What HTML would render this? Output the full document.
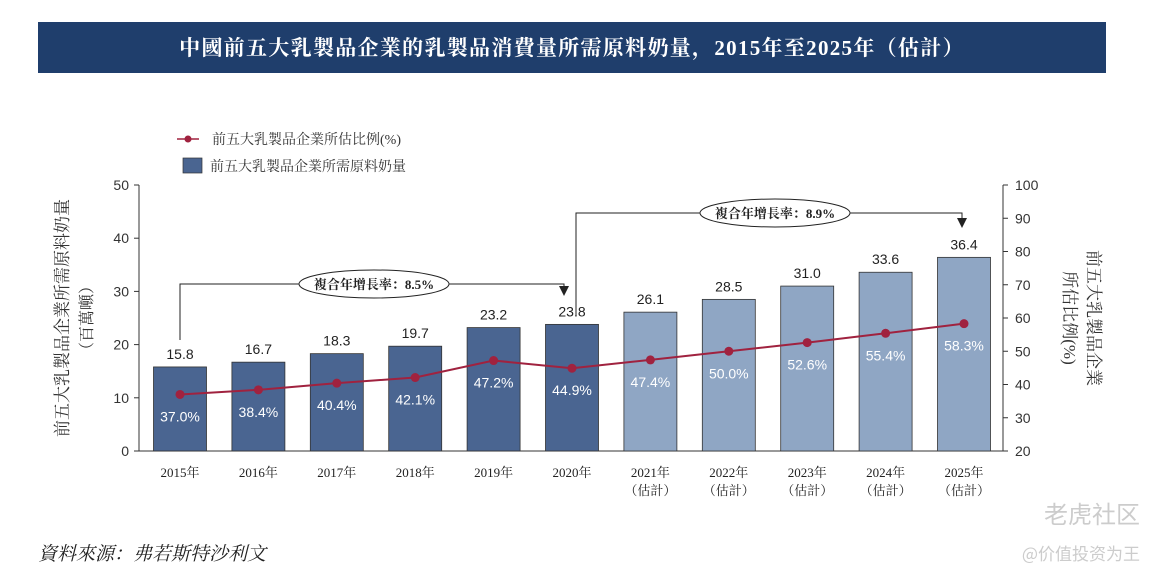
<!DOCTYPE html>
<html><head><meta charset="utf-8"><style>
body{margin:0;background:#fff;width:1161px;height:580px;overflow:hidden;font-family:"Liberation Serif","Noto Serif CJK SC",serif}
</style></head><body>
<svg width="1161" height="580" xmlns="http://www.w3.org/2000/svg">
<rect x="38" y="22" width="1068" height="51" fill="#1f3e6c"/>
<text x="572" y="55" fill="#fff" font-size="21" letter-spacing="1.3" font-weight="bold" text-anchor="middle" font-family="Liberation Serif,Noto Serif CJK SC,serif">中國前五大乳製品企業的乳製品消費量所需原料奶量，2015年至2025年（估計）</text>
<g>
<line x1="177" y1="139" x2="199" y2="139" stroke="#a0223f" stroke-width="1.5"/><circle cx="188" cy="139" r="3.5" fill="#a0223f"/>
<text x="212" y="144" font-size="14" fill="#333">前五大乳製品企業所估比例(%)</text>
<rect x="183" y="158" width="19" height="15" fill="#4a6591" stroke="#333" stroke-width="0.7"/>
<text x="210" y="171" font-size="14" fill="#333">前五大乳製品企業所需原料奶量</text>
</g>
<g id="axes"></g>
<g id="marks"></g>
<text transform="translate(68,318) rotate(-90)" font-size="17" fill="#333" text-anchor="middle">前五大乳製品企業所需原料奶量</text>
<text transform="translate(92,318) rotate(-90)" font-size="16" fill="#333" text-anchor="middle">（百萬噸）</text>
<text transform="translate(1088,318) rotate(90)" font-size="17" fill="#333" text-anchor="middle">前五大乳製品企業</text>
<text transform="translate(1064,318) rotate(90)" font-size="17" fill="#333" text-anchor="middle">所估比例(%)</text>
<text x="38" y="560" font-size="19" font-style="italic" fill="#222">資料來源：弗若斯特沙利文</text>
<text x="1140" y="523" font-size="24" fill="#ccc" text-anchor="end" font-family="Noto Sans CJK SC,sans-serif">老虎社区</text>
<text x="1140" y="560" font-size="17" fill="#ccc" text-anchor="end" font-family="Noto Sans CJK SC,sans-serif">@价值投资为王</text>
</svg>
<script>
const years=['2015年','2016年','2017年','2018年','2019年','2020年','2021年','2022年','2023年','2024年','2025年'];
const estimated=[false,false,false,false,false,false,true,true,true,true,true];
const volume=[15.8,16.7,18.3,19.7,23.2,23.8,26.1,28.5,31.0,33.6,36.4];
const share=[37.0,38.4,40.4,42.1,47.2,44.9,47.4,50.0,52.6,55.4,58.3];
const leftTicks=[0,10,20,30,40,50];
const rightTicks=[20,30,40,50,60,70,80,90,100];
const NS='http://www.w3.org/2000/svg';
const y0=451,yTop=185,xL=139,xR=1003;
const yL=v=>y0-(v/50)*(y0-yTop);
const yR=v=>y0-((v-20)/80)*(y0-yTop);
const xC=i=>180+i*78.4;
function mk(t,a,p){const e=document.createElementNS(NS,t);for(const k in a)e.setAttribute(k,a[k]);(p||document.getElementById('marks')).appendChild(e);return e;}
const ax=document.getElementById('axes');
let e=mk('line',{x1:xL,y1:yTop,x2:xL,y2:y0,stroke:'#333'},ax);

e=mk('line',{x1:xR,y1:yTop,x2:xR,y2:y0,stroke:'#333'},ax);

e=mk('line',{x1:xL,y1:y0,x2:xR,y2:y0,stroke:'#333'},ax);

leftTicks.forEach(v=>{mk('line',{x1:xL-5,y1:yL(v),x2:xL,y2:yL(v),stroke:'#333'},ax);
e=mk('text',{x:xL-10,y:yL(v)+5,'font-size':14,'text-anchor':'end',fill:'#333','font-family':'Liberation Sans,sans-serif'},ax);e.textContent=v;
});
rightTicks.forEach(v=>{mk('line',{x1:xR,y1:yR(v),x2:xR+5,y2:yR(v),stroke:'#333'},ax);
e=mk('text',{x:xR+12,y:yR(v)+5,'font-size':14,fill:'#333','font-family':'Liberation Sans,sans-serif'},ax);e.textContent=v;
});
years.forEach((y,i)=>{
 const x=xC(i);
 e=mk('rect',{x:x-26.5,y:yL(volume[i]),width:53,height:y0-yL(volume[i]),fill:estimated[i]?'#8fa6c4':'#4a6591',stroke:'#333','stroke-width':0.8});
 
 e=mk('text',{x:x,y:yL(volume[i])-8,'font-size':14,'text-anchor':'middle',fill:'#222','font-family':'Liberation Sans,sans-serif'});e.textContent=volume[i].toFixed(1);
 
 e=mk('text',{x:x,y:yR(share[i])+27,'font-size':14,'text-anchor':'middle',fill:'#fff','font-family':'Liberation Sans,sans-serif'});e.textContent=share[i].toFixed(1)+'%';
 
 e=mk('text',{x:x,y:477,'font-size':13,'text-anchor':'middle',fill:'#222'},ax);e.textContent=y;
 
 if(estimated[i]){e=mk('text',{x:x,y:495,'font-size':13,'text-anchor':'middle',fill:'#222'},ax);e.textContent='（估計）';
 }
});
e=mk('polyline',{points:share.map((v,i)=>xC(i)+','+yR(v)).join(' '),fill:'none',stroke:'#a0223f','stroke-width':2});

share.forEach((v,i)=>{e=mk('circle',{cx:xC(i),cy:yR(v),r:4.5,fill:'#a0223f'});
 });
function cagr(x1,x2,yl,ystart,yarr,label,cx,name){
 const g=mk('g',{});
 mk('polyline',{points:`${x1},${ystart} ${x1},${yl} ${x2},${yl} ${x2},${yarr-8}`,fill:'none',stroke:'#222','stroke-width':1},g);
 mk('polygon',{points:`${x2-5},${yarr-8} ${x2+5},${yarr-8} ${x2},${yarr+2}`,fill:'#222'},g);
 mk('ellipse',{cx:cx,cy:yl,rx:75,ry:14,fill:'#fff',stroke:'#222'},g);
 const t=mk('text',{x:cx,y:yl+5,'font-size':13,'font-weight':'bold','text-anchor':'middle',fill:'#222'},g);t.textContent=label;
}
cagr(180,564,284,340,294,'複合年增長率：8.5%',374,'cagr-2015-2020');
cagr(576,962,213,315,226,'複合年增長率：8.9%',775,'cagr-2020-2025');
</script>
</body></html>
